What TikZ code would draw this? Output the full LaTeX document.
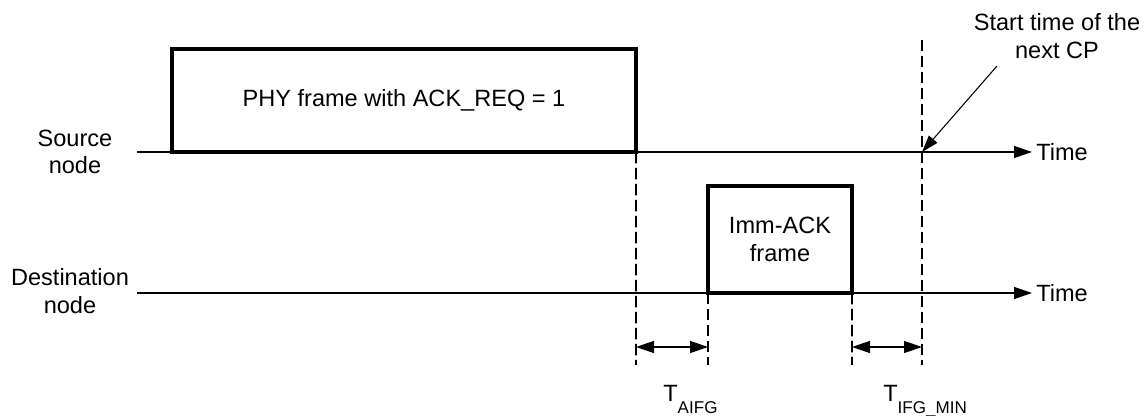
\documentclass[tikz,border=0pt]{standalone}
\usepackage{fontspec}
\setmainfont{Liberation Sans}
\usepackage{tikz}
\usetikzlibrary{arrows.meta,positioning,calc}

\tikzset{
    framebox/.style={draw, line width=2pt, inner sep=0pt, outer sep=0pt, align=center, font=\fontsize{13.4}{16}\selectfont},
    timeline/.style={line width=0.6pt, -{Triangle[length=0.36cm, width=0.24cm]}},
    guide/.style={line width=1.1pt, dash pattern=on 6.5pt off 2.6pt},
    gap/.style={line width=0.7pt, {Triangle[length=0.36cm, width=0.24cm]}-{Triangle[length=0.36cm, width=0.24cm]}},
    lbl/.style={align=center, font=\fontsize{13.4}{15.5}\selectfont}
}
\newcommand{\tsub}[1]{T\raisebox{-6.3pt}{\fontsize{9.7}{10}\selectfont #1}}

\begin{document}
\begin{tikzpicture}
    \useasboundingbox (0,0) rectangle (22.88,8.32);

    \node (src) [lbl] at (1.5,5.28) {Source\\node};
    \node (dst) [lbl] at (1.4,2.5) {Destination\\node};

    \node (stime) [lbl, anchor=west, inner sep=0.08cm] at (20.64,5.28) {Time};
    \node (dtime) [lbl, anchor=west, inner sep=0.08cm] at (20.64,2.46) {Time};

    \coordinate (s0) at (2.74,5.28);
    \coordinate (d0) at (2.74,2.46);
    \draw[timeline] (s0) -- (stime.west);
    \draw[timeline] (d0) -- (dtime.west);

    \node (phy) [framebox, anchor=south west, minimum width=9.28cm, minimum height=2.06cm] at (3.44,5.28) {PHY frame with ACK\_REQ = 1};
    \node (ack) [framebox, anchor=south west, minimum width=2.88cm, minimum height=2.14cm] at (14.16,2.46) {Imm-ACK\\frame};

    % dashed markers
    \coordinate (m1) at (12.72,1.02);
    \coordinate (m2) at (14.16,1.02);
    \coordinate (m3) at (17.04,1.02);
    \coordinate (m4) at (18.44,1.02);
    \coordinate (cp) at (18.44,7.52);
    \draw[guide] (phy.south east) -- (m1);
    \draw[guide] (ack.south west) -- (m2);
    \draw[guide] (ack.south east) -- (m3);
    \draw[guide] (cp) -- (m4);

    \draw[gap] ($(m1)+(0,0.36)$) -- ($(m2)+(0,0.36)$);
    \draw[gap] ($(m3)+(0,0.36)$) -- ($(m4)+(0,0.36)$);

    \node (aifg) [lbl, anchor=base west, inner sep=0pt] at (13.26,0.28) {\tsub{AIFG}};
    \node (ifg) [lbl, anchor=base west, inner sep=0pt] at (17.66,0.28) {\tsub{IFG\_MIN}};

    \node (next) [lbl] at (21.14,7.6) {Start time of the\\next CP};
    \coordinate (nx) at (19.94,7.0);
    \draw[line width=0.6pt, -{Triangle[length=0.34cm, width=0.22cm]}] (nx) -- (18.44,5.28);
\end{tikzpicture}
\end{document}
